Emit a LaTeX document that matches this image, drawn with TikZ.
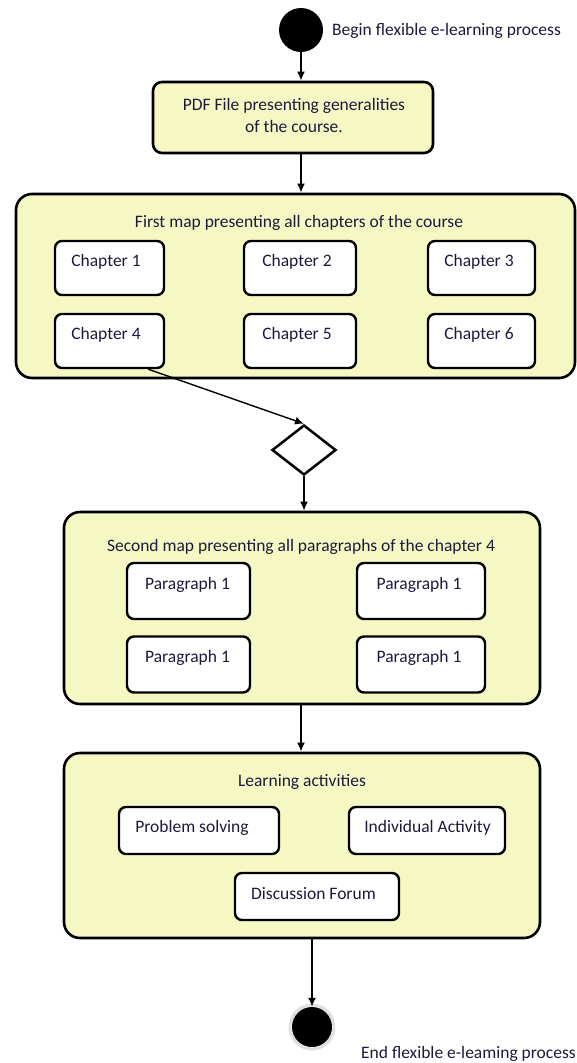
\documentclass[tikz,border=0pt]{standalone}
\usepackage{fontspec}
\setmainfont{Carlito}
\usetikzlibrary{arrows.meta,shapes.geometric}
\definecolor{paleyellow}{RGB}{246,248,196}
\definecolor{txt}{RGB}{30,26,60}
\tikzset{
  container/.style={draw, line width=2.6pt, fill=paleyellow, rounded corners=16pt, inner sep=0pt},
  pdfbox/.style={draw, line width=2.6pt, fill=paleyellow, rounded corners=9pt, inner sep=0pt},
  item/.style={draw, line width=2.4pt, fill=white, rounded corners=7pt, inner sep=0pt},
  lbl/.style={text=txt, font=\fontsize{17.5}{22}\selectfont, inner sep=0pt},
  arr/.style={line width=1.9pt, -{Latex[length=9pt,width=8pt]}},
  thinarr/.style={line width=1.4pt, -{Latex[length=9pt,width=8pt]}},
  endpoint/.style={circle, fill=black, inner sep=0pt},
}
\begin{document}
\begin{tikzpicture}[x=1pt,y=-1pt]
\useasboundingbox (0,0) rectangle (576,1063);
% start
\node[endpoint, minimum size=44pt] (start) at (301,30) {};
\node[lbl, anchor=west] (beginlbl) at (332,31) {Begin flexible e-learning process};
% pdf box
\node[pdfbox, minimum width=280pt, minimum height=71pt] (pdf) at (293,117.5) {};
\node[lbl, align=center] (pdftxt) at (294,115) {PDF File presenting generalities\\of the course.};
% first map
\node[container, minimum width=559pt, minimum height=184pt] (map1) at (295.5,286) {};
\node[lbl] (map1title) at (299,223) {First map presenting all chapters of the course};
\node[item, minimum width=109pt, minimum height=54pt] (ch1) at (109.5,268) {};
\node[item, minimum width=112pt, minimum height=54pt] (ch2) at (300,268) {};
\node[item, minimum width=107pt, minimum height=54pt] (ch3) at (481.5,268) {};
\node[item, minimum width=109pt, minimum height=54pt] (ch4) at (109.5,341) {};
\node[item, minimum width=112pt, minimum height=54pt] (ch5) at (300,341) {};
\node[item, minimum width=107pt, minimum height=54pt] (ch6) at (481.5,341) {};
\node[lbl] at (106,262) {Chapter 1};
\node[lbl] at (297,262) {Chapter 2};
\node[lbl] at (479,262) {Chapter 3};
\node[lbl] at (106,335) {Chapter 4};
\node[lbl] at (297,335) {Chapter 5};
\node[lbl] at (479,335) {Chapter 6};
% decision
\node[diamond, draw, line width=2.5pt, fill=white, minimum width=64pt, minimum height=50pt, inner sep=0pt] (dec) at (304,450) {};
% second map
\node[container, minimum width=476pt, minimum height=192pt] (map2) at (302,608) {};
\node[lbl] (map2title) at (301,547) {Second map presenting all paragraphs of the chapter 4};
\node[item, minimum width=123pt, minimum height=56pt] (p1) at (188.5,591) {};
\node[item, minimum width=128pt, minimum height=56pt] (p2) at (421,591) {};
\node[item, minimum width=123pt, minimum height=56pt] (p3) at (188.5,664.5) {};
\node[item, minimum width=128pt, minimum height=56pt] (p4) at (421,664.5) {};
\node[lbl] at (187.5,585) {Paragraph 1};
\node[lbl] at (419,585) {Paragraph 1};
\node[lbl] at (187.5,658) {Paragraph 1};
\node[lbl] at (419,658) {Paragraph 1};
% learning activities
\node[container, minimum width=476pt, minimum height=185pt] (learn) at (302,845.5) {};
\node[lbl] (learntitle) at (302,782) {Learning activities};
\node[item, minimum width=160pt, minimum height=47pt] (ps) at (199,830.5) {};
\node[item, minimum width=156pt, minimum height=47pt] (ia) at (427,830.5) {};
\node[item, minimum width=164pt, minimum height=47pt] (df) at (317,896.5) {};
\node[lbl] at (192,828) {Problem solving};
\node[lbl] at (427.5,828) {Individual Activity};
\node[lbl] at (313.5,894) {Discussion Forum};
% end
\node[circle, draw=black!12, line width=3pt, minimum size=44pt, inner sep=0pt] (endring) at (312,1027) {};
\node[endpoint, minimum size=40pt] (finish) at (312,1027) {};
\node[lbl, anchor=east] (endlbl) at (576,1054) {End flexible e-leaming process};
% connectors
\draw[arr] (start.south) -- (start.south |- pdf.north);
\draw[arr] (start.south |- pdf.south) -- (start.south |- map1.north);
\draw[thinarr] ([xshift=-17pt]ch4.south east) -- (dec.north);
\draw[arr] (dec.south) -- (dec.south |- map2.north);
\draw[arr] (map2.south -| start) -- (learn.north -| start);
\draw[arr] (learn.south -| finish) -- (finish.north);
\end{tikzpicture}
\end{document}
